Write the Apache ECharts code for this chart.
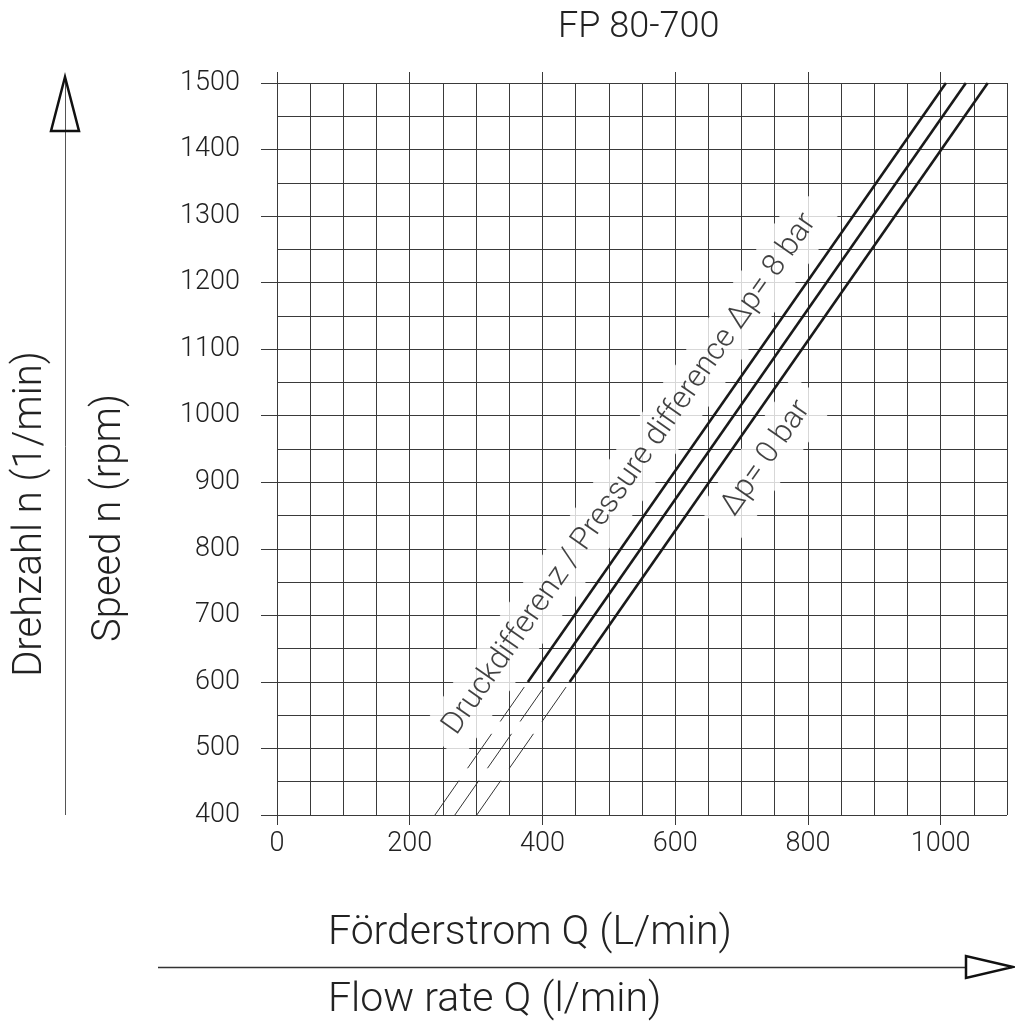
<!DOCTYPE html>
<html>
<head>
<meta charset="utf-8">
<script src="https://cdn.jsdelivr.net/npm/echarts@6/dist/echarts.min.js"></script>
<style>
html,body{margin:0;padding:0;background:#fff;}
#chart{width:1015px;height:1024px;}
</style>
</head>
<body>
<div id="chart"></div>
<script>
// ---- data ----
const flowTicks = [0, 200, 400, 600, 800, 1000];
const speedTicks = [400, 500, 600, 700, 800, 900, 1000, 1100, 1200, 1300, 1400, 1500];
const speedDashed = [400, 600];
const speedSolid = [600, 1500];
const flow8barDashed = [238, 378];
const flow8barSolid = [378, 1008];
const flowMidDashed = [268, 408];
const flowMidSolid = [408, 1038];
const flow0barDashed = [301, 441];
const flow0barSolid = [441, 1071];
const labelTexts = ['Druckdifferenz / Pressure difference Δp= 8 bar', 'Δp= 0 bar'];
const labelFlow = [532, 737];
const labelSpeed = [912, 936];

const FONT = "Roboto, 'Liberation Sans', sans-serif";
const TXT = '#222';
const GRIDC = '#3a3a3a';

function pairs(xs, ys) { return xs.map((x, i) => [x, ys[i]]); }

function solid(xs) {
  return { type: 'line', xAxisIndex: 0, yAxisIndex: 0, data: pairs(xs, speedSolid), symbol: 'none', z: 3,
    lineStyle: { color: '#1a1a1a', width: 2.6 }, silent: true };
}
function dashed(xs) {
  return { type: 'line', xAxisIndex: 0, yAxisIndex: 0, data: pairs(xs, speedDashed), symbol: 'none', z: 3,
    lineStyle: { color: '#333', width: 1, type: [42, 15] }, silent: true };
}

const plain = v => String(v);

const chart = echarts.init(document.getElementById('chart'), null, { renderer: 'canvas' });
const option = {
  animation: false,
  backgroundColor: '#fff',
  textStyle: { fontFamily: FONT, fontWeight: 300, color: TXT },
  grid: { left: 277, right: 8, top: 83, bottom: 209, outerBoundsMode: 'none' },
  xAxis: [
    { type: 'value', min: 0, max: 1100, interval: 50, position: 'bottom',
      axisLine: { show: false },
      axisTick: { show: true, length: 10, customValues: flowTicks, lineStyle: { color: GRIDC, width: 1 } },
      axisLabel: { customValues: flowTicks, formatter: plain, margin: 16, fontSize: 27, color: TXT, fontFamily: FONT, fontWeight: 300 },
      splitLine: { show: false } },
    { type: 'value', min: 0, max: 1100, interval: 50, position: 'top',
      axisLine: { show: false },
      axisTick: { show: true, length: 11, customValues: flowTicks, lineStyle: { color: GRIDC, width: 1 } },
      axisLabel: { show: false },
      splitLine: { show: false } },
    { type: 'value', min: 0, max: 1100, interval: 50, position: 'bottom', offset: 0,
      axisLine: { show: false }, axisTick: { show: false }, axisLabel: { show: false },
      splitLine: { show: true, lineStyle: { color: GRIDC, width: 1 } } }
  ],
  yAxis: [
    { type: 'value', min: 400, max: 1500, interval: 50,
      axisLine: { show: false },
      axisTick: { show: true, length: 16, customValues: speedTicks, lineStyle: { color: GRIDC, width: 1 } },
      axisLabel: { customValues: speedTicks, formatter: plain, margin: 37, fontSize: 27, color: TXT, fontFamily: FONT, fontWeight: 300 },
      splitLine: { show: false } },
    { type: 'value', min: 400, max: 1500, interval: 50, position: 'left',
      axisLine: { show: false }, axisTick: { show: false }, axisLabel: { show: false },
      splitLine: { show: true, lineStyle: { color: GRIDC, width: 1 } } }
  ],
  series: [
    dashed(flow8barDashed), solid(flow8barSolid),
    dashed(flowMidDashed), solid(flowMidSolid),
    dashed(flow0barDashed), solid(flow0barSolid),
    { type: 'scatter', xAxisIndex: 0, yAxisIndex: 0, symbolSize: 0, z: 1, silent: true,
      data: labelTexts.map((t, i) => ({ value: [labelFlow[i], labelSpeed[i]], name: t })),
      label: { show: true, position: 'inside', rotate: 55, formatter: p => p.name,
        fontSize: 31, fontFamily: FONT, fontWeight: 300, color: '#111',
        backgroundColor: '#fff', padding: [10, 16] } }
  ],
  graphic: [
    { type: 'text', left: 558, top: 10, style: { text: 'FP 80-700', fontSize: 36, fontFamily: FONT, fontWeight: 300, fill: TXT } },
    { type: 'text', x: 31, y: 514, rotation: Math.PI / 2, style: { text: 'Drehzahl n (1/min)', fontSize: 40, fontFamily: FONT, fontWeight: 300, fill: TXT, align: 'center', verticalAlign: 'middle' } },
    { type: 'text', x: 110, y: 518, rotation: Math.PI / 2, style: { text: 'Speed n (rpm)', fontSize: 40, fontFamily: FONT, fontWeight: 300, fill: TXT, align: 'center', verticalAlign: 'middle' } },
    { type: 'text', x: 328, y: 934, style: { text: 'Förderstrom Q (L/min)', fontSize: 41, fontFamily: FONT, fontWeight: 300, fill: TXT, align: 'left', verticalAlign: 'middle' } },
    { type: 'text', x: 328, y: 1001, style: { text: 'Flow rate Q (l/min)', fontSize: 41, fontFamily: FONT, fontWeight: 300, fill: TXT, align: 'left', verticalAlign: 'middle' } },
    { type: 'line', shape: { x1: 65.5, y1: 815, x2: 65.5, y2: 78 }, style: { stroke: '#555', lineWidth: 1 } },
    { type: 'polygon', shape: { points: [[65, 77], [51, 131], [79, 131]] }, style: { fill: 'rgba(255,255,255,0)', stroke: '#111', lineWidth: 2.5, lineJoin: 'miter' } },
    { type: 'line', shape: { x1: 158, y1: 967.5, x2: 1012, y2: 967.5 }, style: { stroke: '#333', lineWidth: 1.5 } },
    { type: 'polygon', shape: { points: [[1013, 967], [966, 956], [966, 978]] }, style: { fill: '#fff', stroke: '#111', lineWidth: 2.5, lineJoin: 'miter' } }
  ]
};
chart.setOption(option);
</script>
</body>
</html>
